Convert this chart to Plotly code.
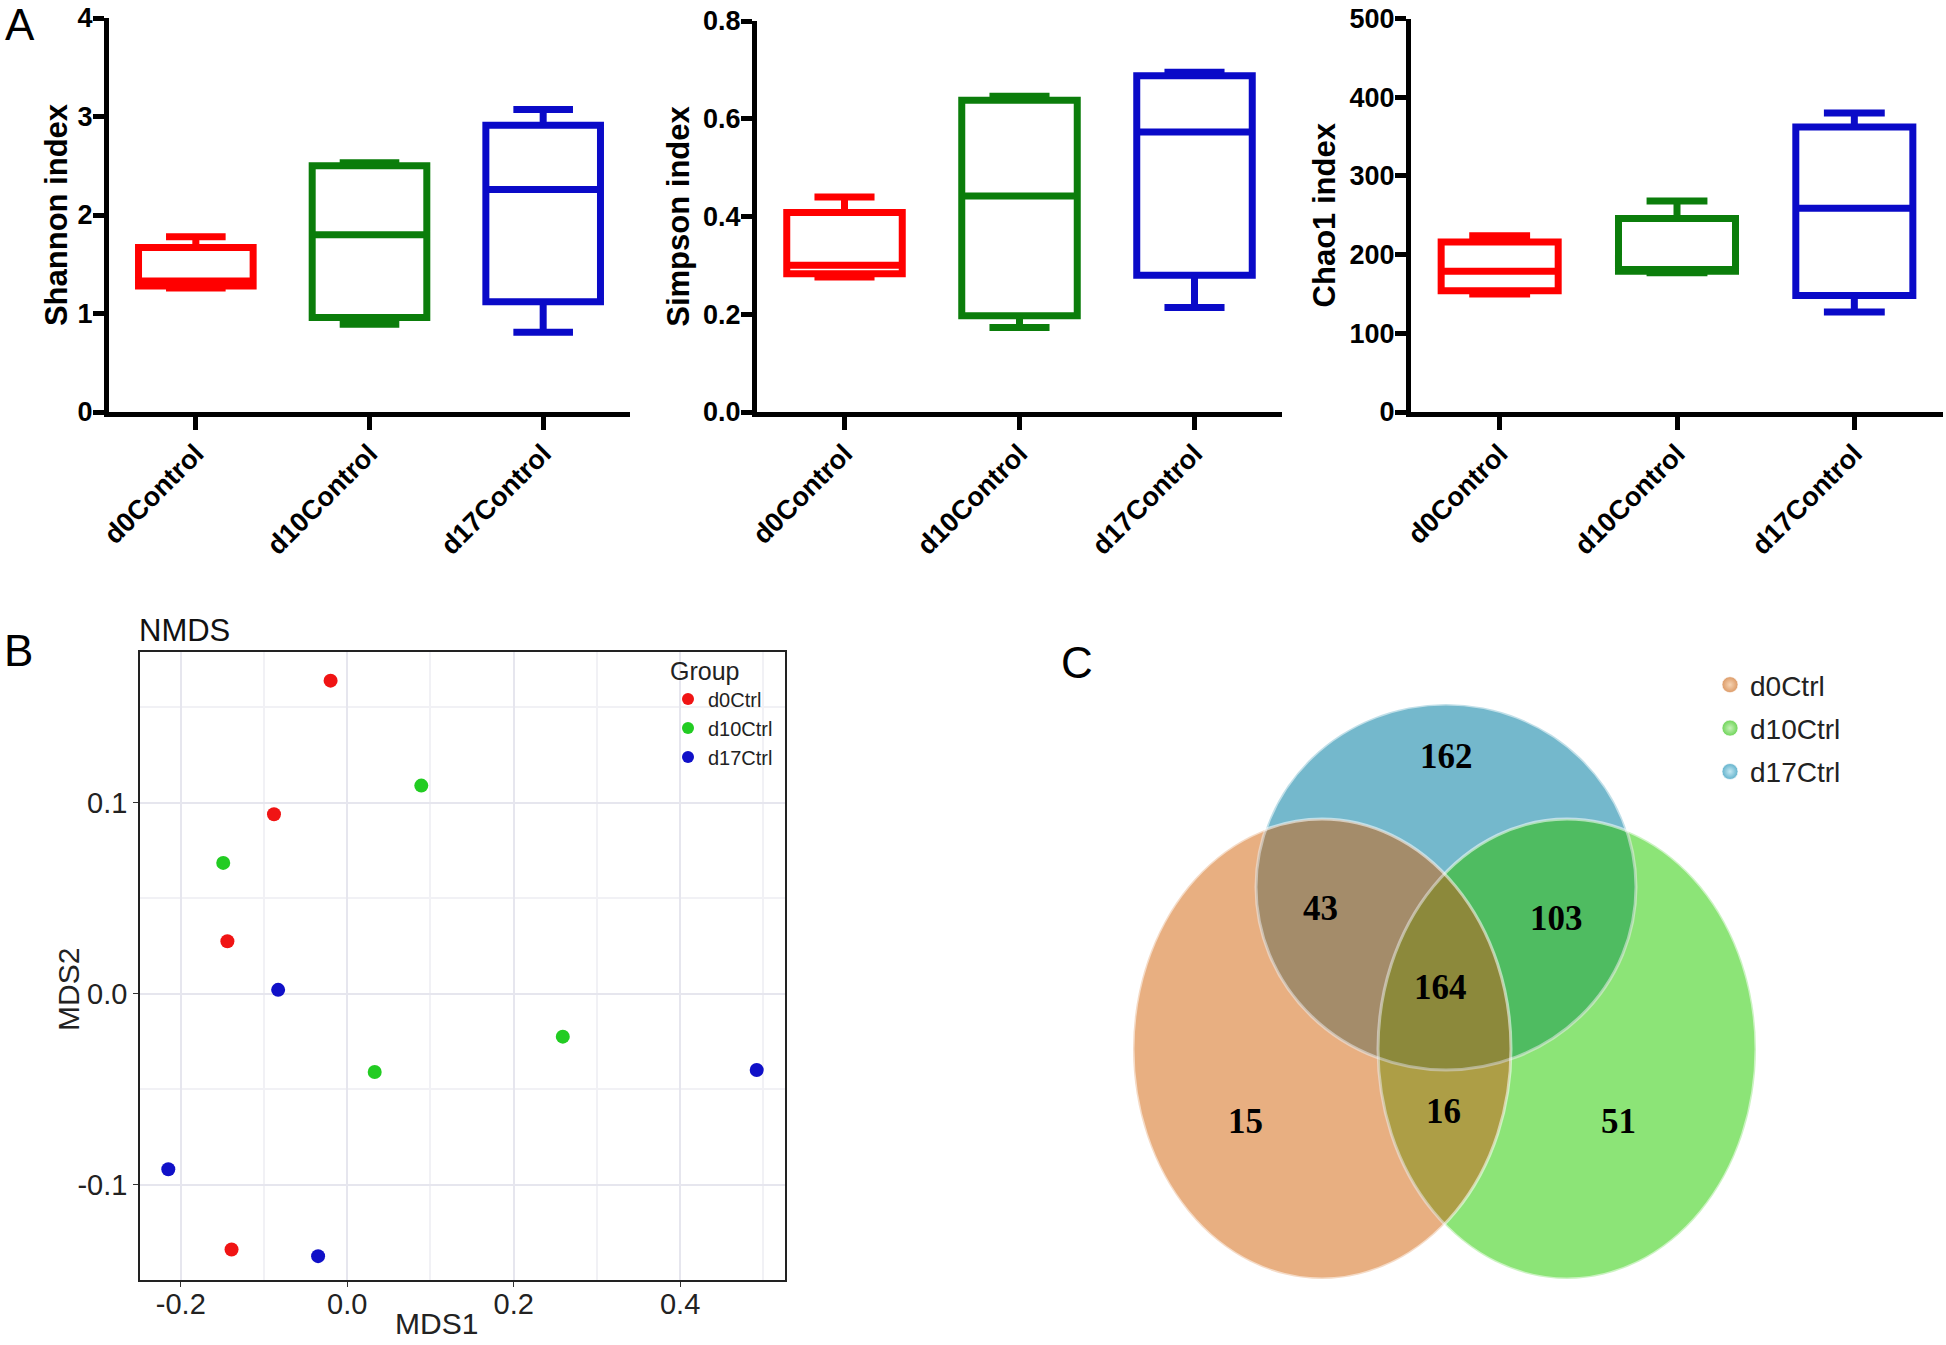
import plotly.graph_objects as go

W, H = 1946, 1345

# ---- panel A: alpha diversity boxes ----
groups = ["d0Control", "d10Control", "d17Control"]
box_colors = ["#ff0000", "#0b7d0b", "#0a0ac8"]

shannon_min = [1.26, 0.89, 0.81]
shannon_q1 = [1.28, 0.96, 1.12]
shannon_med = [1.33, 1.80, 2.26]
shannon_q3 = [1.67, 2.50, 2.91]
shannon_max = [1.78, 2.53, 3.07]

simpson_min = [0.276, 0.173, 0.214]
simpson_q1 = [0.283, 0.197, 0.280]
simpson_med = [0.300, 0.442, 0.573]
simpson_q3 = [0.408, 0.638, 0.688]
simpson_max = [0.440, 0.646, 0.695]

chao_min = [150, 177, 127]
chao_q1 = [154, 179, 148]
chao_med = [179, 181, 259]
chao_q3 = [216, 246, 362]
chao_max = [224, 268, 380]

# ---- panel B: NMDS ----
nmds_groups = ["d0Ctrl", "d10Ctrl", "d17Ctrl"]
nmds_colors = ["#f01414", "#22cc22", "#1010c8"]
d0_mds1 = [-0.020, -0.088, -0.144, -0.139]
d0_mds2 = [0.164, 0.094, 0.0275, -0.134]
d10_mds1 = [0.089, -0.149, 0.033, 0.259]
d10_mds2 = [0.109, 0.0685, -0.041, -0.0225]
d17_mds1 = [-0.083, -0.215, -0.035, 0.492]
d17_mds2 = [0.002, -0.092, -0.1375, -0.040]
mds_xticks = [-0.2, 0.0, 0.2, 0.4]
mds_yticks = [-0.1, 0.0, 0.1]

# ---- panel C: Venn counts ----
venn_sets = ["d0Ctrl", "d10Ctrl", "d17Ctrl"]
venn_regions = ["d17", "d0&d17", "d10&d17", "all", "d0", "d0&d10", "d10"]
venn_counts = [162, 43, 103, 164, 15, 16, 51]

FONT = "Liberation Sans"
fig = go.Figure()


def px_x(a, b):
    return [a / W, b / W]


def px_y(top, bottom):
    return [1 - bottom / H, 1 - top / H]


def add_boxes(sfx, mins, q1s, meds, q3s, maxs):
    for g, c, lo, a, m, b, hi in zip(groups, box_colors, mins, q1s, meds, q3s, maxs):
        fig.add_trace(go.Box(
            x=[g], lowerfence=[lo], q1=[a], median=[m], q3=[b], upperfence=[hi],
            line=dict(color=c, width=7), fillcolor="rgba(0,0,0,0)",
            width=0.66, whiskerwidth=0.52, boxpoints=False, showlegend=False,
            hoverinfo="skip", xaxis="x" + sfx, yaxis="y" + sfx,
        ))


add_boxes("", shannon_min, shannon_q1, shannon_med, shannon_q3, shannon_max)
add_boxes("2", simpson_min, simpson_q1, simpson_med, simpson_q3, simpson_max)
add_boxes("3", chao_min, chao_q1, chao_med, chao_q3, chao_max)

bold = dict(family=FONT, size=27, color="black", weight="bold")
box_panels = [
    ("", 109, 630, 18, 4, 1, "", "Shannon index", 2),
    ("2", 757, 1282, 21, 0.8, 0.2, ".1f", "Simpson index", 6),
    ("3", 1411, 1943, 18.5, 500, 100, "", "Chao1 index", 6),
]
for sfx, x0, x1, top, ymax, dt, fmt, title, gap in box_panels:
    fig.update_layout({
        "xaxis" + sfx: dict(
            domain=px_x(x0, x1), anchor="y" + sfx, type="category",
            categoryorder="array", categoryarray=groups, range=[-0.5, 2.5],
            showline=True, linewidth=5, linecolor="black", ticks="outside",
            ticklen=13, tickwidth=5, tickcolor="black", tickangle=-45,
            ticklabelstandoff=-3, automargin=False,
            tickfont=bold, showgrid=False, zeroline=False,
        ),
        "yaxis" + sfx: dict(
            domain=px_y(top, 412), anchor="x" + sfx, range=[0, ymax], dtick=dt,
            tickformat=fmt, showline=True, linewidth=5, linecolor="black",
            ticks="outside", ticklen=11, tickwidth=5, tickcolor="black",
            ticklabelstandoff=-5,
            tickfont=bold, showgrid=False, zeroline=False, automargin=False,
            title=dict(text=title, font=dict(bold, size=31), standoff=gap),
        ),
    })

# NMDS scatter
for name, col, xs, ys in zip(nmds_groups, nmds_colors,
                             [d0_mds1, d10_mds1, d17_mds1],
                             [d0_mds2, d10_mds2, d17_mds2]):
    fig.add_trace(go.Scatter(
        x=xs, y=ys, mode="markers", name=name, legend="legend",
        marker=dict(size=14, color=col), xaxis="x4", yaxis="y4",
    ))

grid = dict(showgrid=True, gridcolor="#e6e6ee", gridwidth=1.5, zeroline=False,
            showline=True, mirror=True, linecolor="#222", linewidth=1.5,
            ticks="outside", ticklen=5, tickcolor="#333", automargin=False,
            tickfont=dict(family=FONT, size=29, color="#222"))
fig.update_layout(
    xaxis4=dict(grid, domain=px_x(140, 785), anchor="y4", range=[-0.249, 0.526],
                tickmode="array", tickvals=mds_xticks, ticklabelstandoff=-8,
                ticktext=[f"{v:.1f}" for v in mds_xticks],
                minor=dict(dtick=0.1, tick0=0, showgrid=True, gridcolor="#f1f1f5", ticks="")),
    yaxis4=dict(grid, domain=px_y(652, 1280), anchor="x4", range=[-0.150, 0.179],
                tickmode="array", tickvals=mds_yticks,
                ticktext=[f"{v:.1f}" for v in mds_yticks],
                minor=dict(dtick=0.05, tick0=0, showgrid=True, gridcolor="#f1f1f5", ticks="")),
    legend=dict(x=668 / W, y=1 - 647 / H, xanchor="left", yanchor="top",
                bgcolor="rgba(0,0,0,0)", itemsizing="constant",
                title=dict(text="Group", font=dict(family=FONT, size=25, color="#222")),
                font=dict(family=FONT, size=20, color="#222"), tracegroupgap=0),
)
axis_text = dict(family=FONT, size=30, color="#222")
fig.add_annotation(x=436 / W, y=1 - 1323 / H, xref="paper", yref="paper", text="MDS1",
                   showarrow=False, xanchor="center", yanchor="middle", font=axis_text)
fig.add_annotation(x=68 / W, y=1 - 990 / H, xref="paper", yref="paper", text="MDS2",
                   showarrow=False, xanchor="center", yanchor="middle", textangle=-90,
                   font=axis_text)

# Venn (axes in pixel units of the page)
fig.update_layout(
    xaxis5=dict(domain=px_x(1040, W), anchor="y5", range=[1040, W], visible=False,
                automargin=False),
    yaxis5=dict(domain=px_y(600, H), anchor="x5", range=[H, 600], visible=False,
                automargin=False),
)
ellipses = {  # centre x, centre y, half width, half height
    "d17Ctrl": (1446, 887, 190, 183),
    "d10Ctrl": (1567, 1049, 189, 230),
    "d0Ctrl": (1322, 1049, 189, 230),
}
base_fill = {"d17Ctrl": "rgb(126,200,222)", "d10Ctrl": "rgba(68,242,28,0.55)",
             "d0Ctrl": "rgba(250,137,48,0.55)"}
legend_fill = {"d0Ctrl": "#dc9a66", "d10Ctrl": "#6ed458", "d17Ctrl": "#62b2cc"}
legend_glow = {"d0Ctrl": "#f6d4b4", "d10Ctrl": "#c6f2b8", "d17Ctrl": "#c4e8f2"}
shapes = []
for key in ["d17Ctrl", "d10Ctrl", "d0Ctrl"]:
    cx, cy, rx, ry = ellipses[key]
    shapes.append(dict(type="circle", xref="x5", yref="y5", x0=cx - rx, x1=cx + rx,
                       y0=cy - ry, y1=cy + ry, fillcolor=base_fill[key],
                       line=dict(width=0), layer="below"))
for key in ["d17Ctrl", "d10Ctrl", "d0Ctrl"]:
    cx, cy, rx, ry = ellipses[key]
    shapes.append(dict(type="circle", xref="x5", yref="y5", x0=cx - rx, x1=cx + rx,
                       y0=cy - ry, y1=cy + ry, fillcolor="rgba(0,0,0,0.08)",
                       line=dict(width=3, color="rgba(255,255,255,0.55)"), layer="below"))
fig.update_layout(shapes=shapes)

count_pos = [(1446, 756), (1320, 908), (1556, 918), (1440, 987),
             (1245, 1121), (1443, 1111), (1618, 1121)]
for n, (tx, ty) in zip(venn_counts, count_pos):
    fig.add_annotation(x=tx, y=ty, xref="x5", yref="y5", text=str(n), showarrow=False,
                       font=dict(family="Liberation Serif", size=35, color="black", weight="bold"))

for name in venn_sets:
    fig.add_trace(go.Scatter(
        x=[None], y=[None], mode="markers", name=name, legend="legend2",
        legendgroup=name, marker=dict(size=22, color=legend_fill[name],
                                      gradient=dict(type="radial", color=legend_glow[name]),
                                      line=dict(color="rgba(255,255,255,0.7)", width=1)),
        xaxis="x5", yaxis="y5",
    ))
fig.update_layout(legend2=dict(
    x=1710 / W, y=1 - 660 / H, xanchor="left", yanchor="top", bgcolor="rgba(0,0,0,0)",
    font=dict(family=FONT, size=28, color="#222"), tracegroupgap=4, itemsizing="trace",
))

# panel letters (centre of glyph)
for letter, lx, ly in [("A", 20, 24), ("B", 18, 650), ("C", 1077, 662)]:
    fig.add_annotation(x=lx / W, y=1 - ly / H, xref="paper", yref="paper", text=letter,
                       showarrow=False, xanchor="center", yanchor="middle",
                       font=dict(family=FONT, size=44, color="black"))
fig.add_annotation(x=137 / W, y=1 - 650 / H, xref="paper", yref="paper", text="NMDS",
                   showarrow=False, xanchor="left", yanchor="bottom",
                   font=dict(family=FONT, size=31, color="#111"))

fig.update_layout(
    width=W, height=H, margin=dict(l=0, r=0, t=0, b=0, autoexpand=False),
    paper_bgcolor="white", plot_bgcolor="white",
    font=dict(family=FONT, color="black"),
)

fig.write_html("out.html", config={"displayModeBar": False},
               post_script="document.body.style.margin='0';")
